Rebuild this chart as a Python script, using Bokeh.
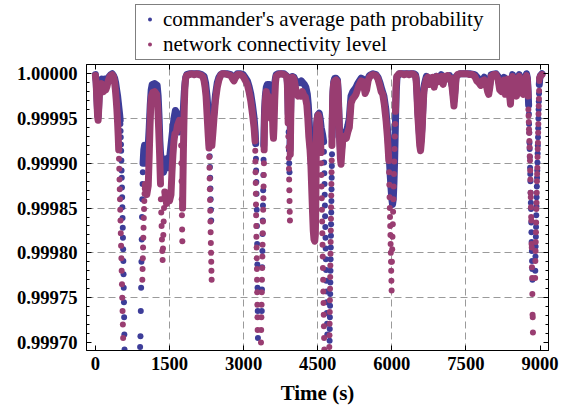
import numpy as np
from bokeh.plotting import figure
from bokeh.layouts import column
from bokeh.models import (Range1d, LinearAxis, FixedTicker, PrintfTickFormatter,
                          CustomJSTickFormatter, Legend, LegendItem)
from bokeh.embed import file_html
from bokeh.resources import INLINE

nan = float("nan")

# ---------------- data ----------------
# network connectivity level: dense runs (nan = break between runs)
net_band_t = [0, 15, 30, 45, 55, 65, 80, 100, 120, 145, 165, 185, 210, 235, 260, 285, 310, 340, 365, 385, 405, 420, 435, 450, 462, 472, nan,
              1010, 1040, 1070, 1090, 1105, 1120, 1135, 1160, 1200, 1240, 1260, 1280, 1300, 1318, nan,
              1405, 1440, 1470, 1500, 1530, 1550, 1570, 1590, 1610, 1640, 1660, 1680, 1700, 1720, 1730, nan,
              1765, 1772, 1780, 1790, 1800, 1812, 1825, 1845, 1900, 1950, 2000, 2050, 2100, 2150, 2180, 2200, 2220, 2240, 2255, 2270, 2285, 2300, nan,
              2358, 2380, 2400, 2430, 2467, 2500, 2535, 2570, 2620, 2680, 2740, 2780, 2806, 2830, 2873, 2940, 2990, 3030, 3076, 3110, 3144, 3180, 3212, 3232, nan,
              3416, 3425, 3440, 3460, 3480, 3500, 3520, 3540, 3560, 3580, 3595, 3605, 3615, 3630, 3645, 3660, 3700, 3760, 3820, 3870, 3885, 3895, 3902, nan,
              3945, 3952, 3960, 3970, 3990, 4020, 4050, 4075, 4100, 4130, 4160, 4190, 4220, 4250, 4280, 4300, 4320, 4345, 4362, 4380, 4396, 4410, 4425, 4440, 4452, 4460, 4466, 4472, 4478, 4490, 4510, 4525, 4540, 4555, 4566, nan,
              4788, 4795, 4805, 4820, 4840, 4870, 4900, 4915, 4930, 4945, 4960, 4972, 4985, 5005, 5040, 5080, 5110, 5140, 5160, 5175, 5210, 5240, 5276, 5310, 5344, 5380, 5420, 5460, 5490, 5520, 5547, 5580, 5620, 5680, 5720, 5750, 5785, 5817, 5850, 5885, 5910, 5925, 5940, nan,
              6074, 6085, 6100, 6150, 6200, 6250, 6300, 6350, 6400, 6450, 6480, 6494, 6510, 6525, 6548, 6565, 6582, 6600, 6616, 6635, 6650, 6663, 6700, 6730, 6760, 6800, 6830, 6860, 6880, 6910, 6940, 6970, 7000, 7040, 7070, 7100, 7130, 7170, 7200, 7230, 7258, 7280, 7300, 7330, 7380, 7430, 7480, 7530, 7580, 7630, 7680, 7720, 7760, 7800, 7830, 7870, 7910, 7940, 7962, 7985, 8010, 8060, 8110, 8150, 8185, 8220, 8253, 8275, 8300, 8320, 8350, 8380, 8402, 8420, 8445, 8480, 8500, 8524, 8550, 8580, 8610, 8640, 8659, 8690, 8727, 8745, 8760, nan,
              8992, 9005, 9020, 9040]
net_band_v = [0.999998, 0.99999, 0.99997, 0.999952, 0.999948, 0.999958, 0.999975, 0.999985, 0.999989, 0.999984, 0.99998, 0.999987, 0.999982, 0.999986, 0.999992, 0.999996, 0.999998, 0.999999, 0.999997, 0.999992, 0.999982, 0.999972, 0.99996, 0.999945, 0.99993, 0.999915, nan,
              0.999875, 0.999865, 0.999875, 0.99991, 0.99994, 0.999965, 0.999975, 0.999979, 0.99998, 0.999977, 0.999965, 0.99994, 0.99991, 0.999877, nan,
              0.999868, 0.999855, 0.999865, 0.999858, 0.999865, 0.99989, 0.99991, 0.999925, 0.999933, 0.999935, 0.999942, 0.999945, 0.999948, 0.999945, 0.99994, nan,
              0.99985, 0.99988, 0.99991, 0.99994, 0.999965, 0.999985, 0.999994, 0.999998, 0.999999, 1.0, 0.999999, 1.0, 0.999999, 0.999998, 0.999996, 0.999992, 0.999985, 0.999975, 0.99996, 0.999945, 0.99993, 0.999917, nan,
              0.99992, 0.999935, 0.99995, 0.99997, 0.999985, 0.999993, 0.999998, 1.0, 1.0, 0.999999, 0.999998, 0.999994, 0.999992, 0.999995, 0.999999, 0.999999, 0.999997, 0.999993, 0.999988, 0.99998, 0.99997, 0.999955, 0.99994, 0.999925, nan,
              0.999915, 0.99995, 0.99997, 0.99998, 0.999965, 0.999975, 0.999955, 0.99997, 0.99995, 0.99996, 0.999935, 0.999928, 0.99994, 0.99997, 0.99999, 0.999997, 0.999999, 1.0, 0.999999, 0.999997, 0.99999, 0.99997, 0.999945, nan,
              0.99991, 0.99994, 0.99997, 0.99999, 0.999996, 0.999994, 0.999985, 0.999977, 0.999975, 0.999978, 0.999975, 0.99998, 0.999976, 0.999974, 0.999965, 0.99995, 0.99993, 0.999915, 0.999899, 0.99987, 0.999845, 0.999825, 0.999815, 0.999813, 0.99982, 0.999845, 0.99988, 0.999915, 0.99994, 0.99995, 0.999954, 0.999952, 0.999945, 0.99993, 0.999912, nan,
              0.99992, 0.99995, 0.999975, 0.999988, 0.999992, 0.999993, 0.999991, 0.999975, 0.99995, 0.999925, 0.999905, 0.999899, 0.99991, 0.999925, 0.99993, 0.999928, 0.999935, 0.99994, 0.999955, 0.999967, 0.999972, 0.999974, 0.999977, 0.999983, 0.999988, 0.999992, 0.999991, 0.999978, 0.999982, 0.999992, 0.999996, 0.999998, 0.999999, 0.999998, 0.999994, 0.999988, 0.99998, 0.999977, 0.999965, 0.999947, 0.99993, 0.999917, 0.999903, nan,
              0.999958, 0.999985, 0.999997, 1.0, 1.0, 0.999999, 1.0, 0.999999, 1.0, 0.999999, 0.999997, 0.999992, 0.999975, 0.999955, 0.999935, 0.99992, 0.999914, 0.999925, 0.99994, 0.999965, 0.99998, 0.999985, 0.999994, 0.999996, 0.999988, 0.999992, 0.999996, 0.999985, 0.999994, 0.999997, 0.999991, 0.999996, 0.999997, 0.999988, 0.999997, 0.999994, 0.999998, 0.999995, 0.999995, 0.99998, 0.999964, 0.999978, 0.999995, 0.999999, 1.0, 1.0, 1.0, 1.0, 0.999999, 0.999999, 0.999997, 0.999992, 0.99999, 0.999987, 0.999992, 0.999993, 0.999988, 0.99998, 0.999977, 0.999985, 0.999997, 0.999999, 0.999999, 0.999994, 0.999982, 0.99998, 0.999985, 0.999993, 0.999977, 0.99999, 0.999994, 0.99998, 0.999966, 0.999985, 0.999997, 0.999992, 0.999978, 0.999975, 0.99999, 0.999997, 0.999992, 0.999978, 0.999977, 0.99999, 0.999998, 0.999992, 0.999975, nan,
              0.999995, 0.999997, 0.999998, 0.999999]

# network connectivity level: isolated samples in the steep drops
net_dot_t = [478, 483, 488, 493, 498, 503, 508, 514, 520, 526, 532, 538, 544, 550, 556, 562,
             950, 955, 960, 965, 970, 975, 980, 985, 990, 995, 1000, 1005,
             1326, 1333, 1340, 1347, 1354, 1361, 1368, 1375, 1382, 1389, 1396,
             1736, 1740, 1744, 1748, 1752, 1756, 1760,
             2305, 2309, 2313, 2317, 2321, 2325, 2329, 2333, 2337, 2341, 2345, 2349, 2353,
             3236, 3239, 3242, 3245, 3248, 3251, 3254, 3257, 3260, 3263, 3266, 3269, 3272, 3275, 3278, 3281, 3284,
             3352, 3356, 3360, 3364, 3368, 3372, 3376, 3380, 3384, 3388, 3392, 3396, 3400, 3404, 3408, 3412,
             3906, 3910, 3914, 3918, 3922, 3926, 3930, 3934, 3938,
             4570, 4574, 4578, 4582, 4586, 4590, 4594, 4598, 4602, 4606, 4610, 4614, 4618, 4622, 4626, 4630, 4634,
             4735, 4738, 4741, 4744, 4747, 4750, 4753, 4756, 4759, 4762, 4765, 4768, 4771, 4774, 4777, 4780, 4783,
             5945, 5950, 5955, 5960, 5964, 5968, 5972, 5976, 5980, 5984, 5988, 5992, 5996,
             6002, 6008, 6014, 6020, 6026, 6032, 6038, 6044, 6050, 6056, 6062, 6068,
             8765, 8769, 8773, 8777, 8781, 8785, 8789, 8793, 8797, 8801, 8805, 8809, 8813, 8817, 8821, 8825, 8829, 8833, 8837, 8841, 8845, 8849, 8853, 8857,
             8902, 8906, 8910, 8914, 8918, 8922, 8926, 8930, 8934, 8938, 8942, 8946, 8950, 8954, 8958, 8962, 8966, 8970, 8974, 8978, 8982, 8986]
net_dot_v = [0.999905, 0.999894, 0.999882, 0.999871, 0.99986, 0.999848, 0.999836, 0.999822, 0.999808, 0.999794, 0.99978, 0.999765, 0.99975, 0.999735, 0.99972, 0.999705,
             0.99977, 0.999782, 0.999794, 0.999806, 0.999817, 0.999828, 0.999839, 0.999849, 0.999858, 0.999866, 0.999872, 0.999877,
             0.99986, 0.999845, 0.99983, 0.999815, 0.999802, 0.999792, 0.999805, 0.99982, 0.999835, 0.99985, 0.999862,
             0.99992, 0.9999, 0.99988, 0.99986, 0.999842, 0.999826, 0.999813,
             0.999907, 0.999895, 0.999883, 0.999871, 0.999859, 0.999847, 0.999835, 0.999823, 0.999811, 0.9998, 0.99979, 0.99978, 0.99977,
             0.999914, 0.999902, 0.99989, 0.999878, 0.999866, 0.999854, 0.999842, 0.99983, 0.999818, 0.999806, 0.999794, 0.999782, 0.99977, 0.999756, 0.999742, 0.999728, 0.999714,
             0.9997, 0.999714, 0.999728, 0.999742, 0.999756, 0.99977, 0.999783, 0.999796, 0.999809, 0.999822, 0.999835, 0.999848, 0.999861, 0.999874, 0.999887, 0.9999,
             0.99993, 0.999918, 0.999906, 0.999894, 0.999882, 0.99987, 0.999858, 0.999846, 0.999836,
             0.9999, 0.999887, 0.999874, 0.999861, 0.999848, 0.999835, 0.999822, 0.999809, 0.999796, 0.999783, 0.99977, 0.999757, 0.999744, 0.999731, 0.999718, 0.999705, 0.999692,
             0.999695, 0.999708, 0.999721, 0.999734, 0.999747, 0.99976, 0.999773, 0.999786, 0.999799, 0.999812, 0.999825, 0.999838, 0.999851, 0.999864, 0.999877, 0.99989, 0.999903,
             0.99989, 0.999876, 0.999862, 0.99985, 0.99984, 0.99983, 0.99982, 0.99981, 0.9998, 0.99979, 0.99978, 0.999769, 0.999758,
             0.99979, 0.999804, 0.999818, 0.999832, 0.999846, 0.99986, 0.999874, 0.999888, 0.999902, 0.999916, 0.99993, 0.999944,
             0.99996, 0.999953, 0.999946, 0.999938, 0.999934, 0.999925, 0.999918, 0.999908, 0.999903, 0.999892, 0.999882, 0.999867, 0.999862, 0.999851, 0.99984, 0.999836, 0.99981, 0.999806, 0.999784, 0.999772, 0.999754, 0.999731, 0.999728, 0.999711,
             0.999772, 0.999791, 0.999802, 0.999812, 0.999823, 0.999834, 0.999849, 0.999856, 0.999867, 0.99988, 0.999888, 0.999895, 0.999907, 0.999916, 0.999923, 0.999934, 0.999944, 0.999955, 0.999964, 0.999972, 0.999981, 0.999992]

# commander's average path probability: dense runs
cmd_band_t = [0, 15, 30, 45, 55, 65, 80, 100, 130, 160, 190, 220, 250, 280, 310, 340, 365, 390, 410, 430, 450, 470, 490, 502, nan,
              965, 980, 995, 1010, 1030, 1050, 1070, 1090, 1110, 1130, 1150, 1200, 1250, 1270, 1290, 1305, 1320, 1350, 1380, 1410, 1440, 1470, 1500, 1530, 1560, 1590, 1620, 1640, 1660, 1690, 1710, 1730, 1750, 1770, 1785, 1800, 1815, 1830, 1850, 1900, 1950, 2000, 2050, 2100, 2150, 2200, 2230, 2260, 2285, 2300, 2308, nan,
              2350, 2370, 2400, 2430, 2467, 2500, 2535, 2570, 2620, 2680, 2740, 2780, 2806, 2830, 2873, 2940, 2990, 3030, 3076, 3110, 3144, 3180, 3212, 3235, 3245, nan,
              3408, 3415, 3425, 3440, 3460, 3480, 3520, 3560, 3600, 3620, 3645, 3660, 3700, 3760, 3820, 3880, 3895, 3905, nan,
              3938, 3948, 3958, 3970, 3990, 4020, 4050, 4080, 4110, 4140, 4170, 4200, 4230, 4260, 4290, 4310, 4330, 4350, 4370, 4390, 4410, 4430, 4450, 4465, 4480, 4500, 4530, 4550, 4570, 4600, 4620, nan,
              4793, 4800, 4810, 4825, 4845, 4870, 4900, 4915, 4930, 4945, 4960, 4975, 4990, 5005, 5040, 5080, 5110, 5140, 5160, 5175, 5210, 5240, 5276, 5310, 5344, 5380, 5420, 5460, 5490, 5520, 5547, 5580, 5620, 5680, 5720, 5760, 5800, 5840, 5880, 5910, 5935, 5955, 5970, 5985, 6000, 6015, 6030, 6045, 6058, 6068, 6078, 6090, 6105,
              6150, 6250, 6350, 6450, 6480, 6494, 6510, 6525, 6548, 6565, 6582, 6600, 6616, 6635, 6650, 6663, 6700, 6760, 6800, 6860, 6900, 6940, 7000, 7040, 7100, 7170, 7230, 7258, 7280, 7300, 7380, 7480, 7580, 7680, 7760, 7800, 7870, 7940, 7962, 7985, 8010, 8110, 8150, 8185, 8220, 8253, 8275, 8300, 8320, 8380, 8402, 8420, 8445, 8500, 8524, 8550, 8580, 8640, 8659, 8690, 8727, 8745, 8760, 8770, nan,
              8986, 8995, 9010, 9040]
cmd_band_v = [0.999999, 0.999992, 0.999975, 0.999957, 0.999952, 0.999962, 0.999982, 0.999992, 0.999994, 0.999992, 0.999994, 0.999992, 0.999995, 0.999997, 0.999999, 1.0, 0.999998, 0.999995, 0.99999, 0.999982, 0.999975, 0.999965, 0.999955, 0.999948, nan,
              0.9999, 0.999915, 0.99992, 0.99991, 0.9999, 0.999905, 0.99992, 0.99994, 0.999965, 0.999982, 0.999988, 0.999989, 0.999987, 0.999975, 0.99995, 0.999925, 0.99991, 0.9999, 0.99989, 0.9999, 0.999905, 0.999895, 0.999905, 0.99992, 0.999935, 0.99995, 0.999959, 0.999957, 0.999945, 0.999935, 0.99994, 0.999945, 0.999942, 0.99995, 0.999965, 0.99998, 0.99999, 0.999996, 0.999999, 1.0, 1.0, 1.0, 1.0, 1.0, 0.999999, 0.999997, 0.99999, 0.999975, 0.999955, 0.999935, 0.99992, nan,
              0.999925, 0.99994, 0.999958, 0.999976, 0.99999, 0.999996, 0.999999, 1.0, 1.0, 1.0, 0.999999, 0.999996, 0.999994, 0.999997, 1.0, 1.0, 0.999999, 0.999996, 0.999992, 0.999986, 0.999978, 0.999965, 0.999951, 0.999935, 0.999922, nan,
              0.99992, 0.99994, 0.99996, 0.999975, 0.999985, 0.999988, 0.999988, 0.999985, 0.999978, 0.999985, 0.999995, 0.999999, 1.0, 1.0, 1.0, 0.999997, 0.99998, 0.999955, nan,
              0.999915, 0.99995, 0.999975, 0.99999, 0.999997, 0.999996, 0.999992, 0.99999, 0.999991, 0.99999, 0.999992, 0.99999, 0.999988, 0.999985, 0.999977, 0.999965, 0.999945, 0.99992, 0.9999, 0.999885, 0.999875, 0.99988, 0.9999, 0.999925, 0.999945, 0.999954, 0.999956, 0.99995, 0.99994, 0.999932, 0.999924, nan,
              0.99993, 0.99996, 0.99998, 0.999991, 0.999995, 0.999995, 0.999993, 0.99998, 0.999955, 0.99993, 0.999915, 0.999912, 0.99992, 0.99993, 0.999935, 0.999935, 0.999942, 0.99995, 0.999965, 0.999975, 0.99998, 0.999982, 0.999985, 0.999989, 0.999992, 0.999995, 0.999994, 0.999985, 0.999988, 0.999995, 0.999998, 0.999999, 1.0, 0.999999, 0.999996, 0.99999, 0.999982, 0.999975, 0.99996, 0.99994, 0.99992, 0.9999, 0.999885, 0.999872, 0.99986, 0.999854, 0.99986, 0.99988, 0.999905, 0.99993, 0.999955, 0.99998, 0.999996,
              1.0, 1.0, 1.0, 1.0, 0.999999, 0.999995, 0.99998, 0.999962, 0.999942, 0.999928, 0.999923, 0.999932, 0.999947, 0.99997, 0.999984, 0.999989, 0.999997, 0.999992, 0.999995, 0.999989, 0.999997, 0.999994, 0.999999, 0.999992, 0.999997, 0.999998, 0.999985, 0.99997, 0.999983, 0.999997, 1.0, 1.0, 1.0, 0.999999, 0.999994, 0.99999, 0.999996, 0.999985, 0.999981, 0.999989, 0.999999, 1.0, 0.999997, 0.999987, 0.999985, 0.99999, 0.999996, 0.999982, 0.999993, 0.999985, 0.999971, 0.999989, 0.999999, 0.999983, 0.99998, 0.999993, 0.999999, 0.999983, 0.999981, 0.999993, 1.0, 0.999995, 0.99998, 0.999965, nan,
              0.999988, 0.999995, 0.999998, 1.0]

# commander's average path probability: isolated samples in the steep drops
cmd_dot_t = [506, 510, 514, 518, 522, 526, 530, 534, 538, 542, 546, 550, 554, 558, 562, 566, 570, 574, 578, 582, 586, 590,
             905, 912, 919, 926, 932, 938, 944, 950, 955, 960,
             2314, 2319, 2324, 2329, 2334, 2339, 2344,
             3250, 3254, 3258, 3262, 3266, 3270, 3274, 3278, 3282, 3286, 3290,
             3368, 3372, 3376, 3380, 3384, 3388, 3392, 3396, 3400, 3404,
             3911, 3917, 3923, 3929,
             4626, 4630, 4634, 4638, 4642, 4646, 4650, 4654, 4658, 4662, 4666, 4670, 4674, 4678, 4682, 4686, 4690, 4694,
             4741, 4744, 4747, 4750, 4753, 4756, 4759, 4762, 4765, 4768, 4771, 4774, 4777, 4780, 4783, 4786, 4789,
             8775, 8779, 8783, 8787, 8791, 8795, 8799, 8803, 8807, 8811, 8815, 8819, 8823, 8827, 8831, 8835, 8839, 8843, 8847,
             8904, 8908, 8912, 8916, 8920, 8924, 8928, 8932, 8936, 8940, 8944, 8948, 8952, 8956, 8960, 8964, 8968, 8972, 8976, 8980]
cmd_dot_v = [0.999944, 0.999936, 0.999929, 0.999921, 0.999914, 0.999903, 0.999892, 0.999884, 0.999873, 0.999862, 0.999851, 0.999839, 0.999828, 0.999817, 0.999804, 0.999791, 0.999776, 0.999761, 0.999745, 0.999728, 0.999709, 0.999692,
             0.999695, 0.999707, 0.999735, 0.999761, 0.99979, 0.999815, 0.99984, 0.99986, 0.999877, 0.99989,
             0.999908, 0.999896, 0.999884, 0.999872, 0.99986, 0.999848, 0.999836,
             0.999905, 0.999892, 0.999879, 0.999866, 0.999848, 0.99983, 0.99981, 0.999787, 0.999761, 0.999735, 0.999705,
             0.999735, 0.999759, 0.999784, 0.999802, 0.999821, 0.999836, 0.999853, 0.99987, 0.999887, 0.999904,
             0.999935, 0.999915, 0.9999, 0.99989,
             0.999913, 0.999901, 0.999889, 0.999877, 0.999865, 0.999853, 0.999841, 0.999829, 0.999817, 0.999805, 0.999793, 0.999781, 0.999769, 0.999757, 0.999745, 0.999733, 0.999721, 0.999709,
             0.999702, 0.999715, 0.999728, 0.999741, 0.999754, 0.999767, 0.99978, 0.999793, 0.999806, 0.999819, 0.999832, 0.999845, 0.999858, 0.999871, 0.999884, 0.999897, 0.99991,
             0.999955, 0.999944, 0.999934, 0.999923, 0.999916, 0.999907, 0.999895, 0.999888, 0.99988, 0.999867, 0.999856, 0.999849, 0.999834, 0.999823, 0.999812, 0.999802, 0.999791, 0.999782, 0.99977,
             0.99978, 0.999796, 0.999807, 0.999818, 0.999829, 0.999842, 0.999852, 0.999862, 0.999874, 0.999884, 0.999892, 0.999901, 0.999911, 0.99992, 0.999929, 0.999939, 0.99995, 0.99996, 0.999969, 0.999978]

series_labels = ["commander's average path probability", "network connectivity level"]
x_tick_values = [0, 1500, 3000, 4500, 6000, 7500, 9000]
y_tick_values = [0.9997, 0.99975, 0.9998, 0.99985, 0.9999, 0.99995, 1.0]
y_minor_values = [0.99971, 0.99972, 0.99973, 0.99974, 0.99976, 0.99977, 0.99978, 0.99979,
                  0.99981, 0.99982, 0.99983, 0.99984, 0.99986, 0.99987, 0.99988, 0.99989,
                  0.99991, 0.99992, 0.99993, 0.99994, 0.99996, 0.99997, 0.99998, 0.99999]
x_grid_values = [1500, 3000, 4500, 6000, 7500]
y_grid_values = [0.99975, 0.9998, 0.99985, 0.9999, 0.99995]

# ---------------- styling ----------------
BLUE = "#3D3D99"
MAROON = "#993D71"
SERIF = "Liberation Serif"
BAND_W = 7
DOT = 6
LEGEND_H = 64

# ---- legend strip on top (its frame is aligned with the chart frame by the column) ----
lf = figure(width=561, height=LEGEND_H, output_backend="svg", toolbar_location=None,
            x_range=Range1d(-3, -2), y_range=Range1d(0, 2),
            x_axis_location=None, y_axis_location=None,
            min_border_left=86, min_border_right=13, min_border_top=0, min_border_bottom=0)
lf.outline_line_color = None
lf.background_fill_color = "white"
lf.border_fill_color = "white"
lf.xgrid.visible = False
lf.ygrid.visible = False
cmd_key = lf.scatter(cmd_dot_t, cmd_dot_v, size=4, marker="circle", fill_color=BLUE, line_color=None)
net_key = lf.scatter(net_dot_t, net_dot_v, size=4, marker="circle", fill_color=MAROON, line_color=None)
legend = Legend(items=[LegendItem(label=series_labels[0], renderers=[cmd_key]),
                       LegendItem(label=series_labels[1], renderers=[net_key])],
                location=(49, 4.5), orientation="vertical")
legend.label_text_font = SERIF
legend.label_text_font_size = "21px"
legend.label_text_line_height = 1.0
legend.label_text_color = "black"
legend.border_line_color = "black"
legend.border_line_width = 1
legend.background_fill_color = "white"
legend.background_fill_alpha = 1
legend.padding = 2
legend.spacing = -4
legend.margin = 0
legend.glyph_width = 23
legend.glyph_height = 10
legend.label_height = 21
legend.label_standoff = 2
legend.label_width = 334
lf.add_layout(legend)

# ---- main chart ----
p = figure(width=561, height=407 - LEGEND_H, output_backend="svg", toolbar_location=None,
           x_range=Range1d(-180, 9172), y_range=Range1d(0.999691, 1.0000103),
           min_border_left=86, min_border_right=13, min_border_top=0, min_border_bottom=57)
p.background_fill_color = "white"
p.border_fill_color = "white"
p.outline_line_color = "black"

p.line(np.array(cmd_band_t, dtype=float), np.array(cmd_band_v, dtype=float),
       line_color=BLUE, line_width=BAND_W, line_join="round", line_cap="round")
p.scatter(np.array(cmd_dot_t, dtype=float), np.array(cmd_dot_v, dtype=float),
          size=DOT, marker="circle", fill_color=BLUE, line_color=None)
p.line(np.array(net_band_t, dtype=float), np.array(net_band_v, dtype=float),
       line_color=MAROON, line_width=BAND_W, line_join="round", line_cap="round")
p.scatter(np.array(net_dot_t, dtype=float), np.array(net_dot_v, dtype=float),
          size=DOT, marker="circle", fill_color=MAROON, line_color=None)


def style_axis(ax, show_labels, minor):
    ax.axis_line_color = "black"
    ax.axis_line_width = 1
    ax.major_tick_line_color = "black"
    ax.minor_tick_line_color = "black" if minor else None
    ax.major_tick_in = 5
    ax.major_tick_out = 0
    ax.minor_tick_in = 3
    ax.minor_tick_out = 0
    ax.major_label_text_font = SERIF
    ax.major_label_text_font_style = "bold"
    ax.major_label_text_color = "black"
    ax.major_label_text_font_size = "18.6px"
    if not show_labels:
        ax.formatter = CustomJSTickFormatter(code="return ''")
        ax.major_label_standoff = 0


xt = FixedTicker(ticks=x_tick_values, minor_ticks=[])
yt = FixedTicker(ticks=y_tick_values, minor_ticks=y_minor_values)

xax = p.xaxis[0]
xax.ticker = xt
xax.formatter = PrintfTickFormatter(format="%d")
style_axis(xax, True, False)
xax.major_label_standoff = 6
xax.axis_label = "Time (s)"
xax.axis_label_text_font = SERIF
xax.axis_label_text_font_style = "bold"
xax.axis_label_text_font_size = "21px"
xax.axis_label_text_color = "black"
xax.axis_label_standoff = 8

yax = p.yaxis[0]
yax.ticker = yt
yax.formatter = PrintfTickFormatter(format="%.5f")
style_axis(yax, True, True)
yax.major_label_standoff = 9

rax = LinearAxis(ticker=yt)
style_axis(rax, False, True)
p.add_layout(rax, "right")
tax = LinearAxis(ticker=xt)
style_axis(tax, False, False)
p.add_layout(tax, "above")

p.xgrid.ticker = FixedTicker(ticks=x_grid_values)
p.ygrid.ticker = FixedTicker(ticks=y_grid_values)
for g in (p.xgrid, p.ygrid):
    g.grid_line_color = "#9a9a9a"
    g.grid_line_dash = "7 4"
    g.grid_line_width = 1

page = column(lf, p, spacing=0)
open("out.html", "w").write(file_html(page, INLINE))
